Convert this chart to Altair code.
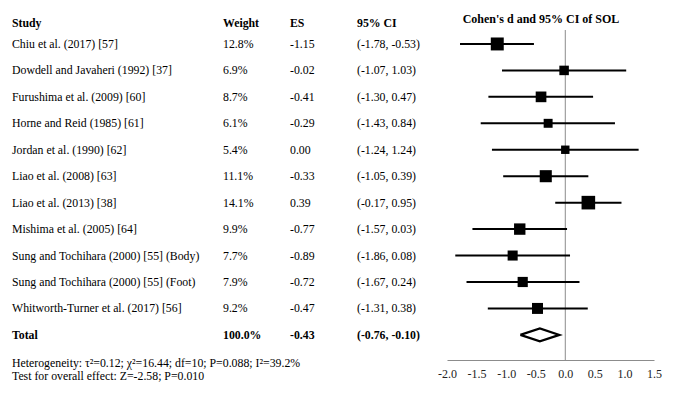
import altair as alt
import pandas as pd

studies = [
    "Chiu et al. (2017) [57]",
    "Dowdell and Javaheri (1992) [37]",
    "Furushima et al. (2009) [60]",
    "Horne and Reid (1985) [61]",
    "Jordan et al. (1990) [62]",
    "Liao et al. (2008) [63]",
    "Liao et al. (2013) [38]",
    "Mishima et al. (2005) [64]",
    "Sung and Tochihara (2000) [55] (Body)",
    "Sung and Tochihara (2000) [55] (Foot)",
    "Whitworth-Turner et al. (2017) [56]",
]
weights = [12.8, 6.9, 8.7, 6.1, 5.4, 11.1, 14.1, 9.9, 7.7, 7.9, 9.2]
es = [-1.15, -0.02, -0.41, -0.29, 0.00, -0.33, 0.39, -0.77, -0.89, -0.72, -0.47]
lo = [-1.78, -1.07, -1.30, -1.43, -1.24, -1.05, -0.17, -1.57, -1.86, -1.67, -1.31]
hi = [-0.53, 1.03, 0.47, 0.84, 1.24, 0.39, 0.95, 0.03, 0.08, 0.24, 0.38]

total_label = "Total"
total_weight = 100.0
total_es = -0.43
total_lo = -0.76
total_hi = -0.10

headers = ["Study", "Weight", "ES", "95% CI"]
plot_title = "Cohen's d and 95% CI of SOL"
footnote = [
    "Heterogeneity: \u03c4\u00b2=0.12; \u03c7\u00b2=16.44; df=10; P=0.088; I\u00b2=39.2%",
    "Test for overall effect: Z=-2.58; P=0.010",
]
tick_values = [-2.0, -1.5, -1.0, -0.5, 0.0, 0.5, 1.0, 1.5]

FONT = "Liberation Serif"
FS = 11.8

n = len(studies)
df = pd.DataFrame({
    "row": list(range(1, n + 1)),
    "study": studies,
    "weight": weights,
    "es": es,
    "lo": lo,
    "hi": hi,
})
df["w_txt"] = [f"{w:.1f}%" for w in weights]
df["es_txt"] = [f"{e:.2f}" for e in es]
df["ci_txt"] = [f"({a:.2f}, {b:.2f})" for a, b in zip(lo, hi)]

trow = n + 1
tot = pd.DataFrame({
    "row": [trow],
    "study": [total_label],
    "w_txt": [f"{total_weight:.1f}%"],
    "es_txt": [f"{total_es:.2f}"],
    "ci_txt": [f"({total_lo:.2f}, {total_hi:.2f})"],
})

hdr = pd.DataFrame({"row": [0], "study": [headers[0]], "w_txt": [headers[1]],
                    "es_txt": [headers[2]], "ci_txt": [headers[3]]})

# diamond polygon for the pooled estimate
h = 0.24
dia = pd.DataFrame({
    "x": [total_lo, total_es, total_hi, total_es, total_lo],
    "row": [trow, trow - h, trow, trow + h, trow],
    "o": [0, 1, 2, 3, 4],
})

xscale = alt.Scale(domain=[-2.0, 1.5], range=[439, 646], nice=False, zero=False)
yscale = alt.Scale(domain=[-0.36, 12.95], reverse=True, nice=False, zero=False)
Y = alt.Y("row:Q", scale=yscale, axis=None)

col_x = {"study": 4, "w_txt": 215, "es_txt": 282, "ci_txt": 349}

def text_cols(data, bold, dy=0):
    layers = []
    for col, px in col_x.items():
        layers.append(
            alt.Chart(data).mark_text(
                align="left", baseline="middle", font=FONT, fontSize=FS,
                fontWeight="bold" if bold else "normal", color="black", dy=dy
            ).encode(x=alt.value(px), y=Y, text=f"{col}:N")
        )
    return layers

base_axis = alt.Chart(df).mark_rule(opacity=0).encode(
    x=alt.X("es:Q", scale=xscale, title=None,
            axis=alt.Axis(values=tick_values, format=".1f", ticks=False, grid=False,
                          domainColor="#8c8c8c", domainWidth=1.2,
                          labelFont=FONT, labelFontSize=12, labelColor="#222",
                          labelOverlap=False, labelFlush=False, labelPadding=8,
                          labelExpr="replace(datum.label, '\u2212', '-')")),
    y=Y,
)

zero_rule = alt.Chart(pd.DataFrame({"z": [0.0]})).mark_rule(
    color="#8c8c8c", strokeWidth=1
).encode(x=alt.X("z:Q", scale=xscale), y=alt.value(22), y2=alt.value(352))

ci = alt.Chart(df).mark_rule(color="black", strokeWidth=2).encode(
    x=alt.X("lo:Q", scale=xscale), x2="hi:Q", y=Y)

sq = alt.Chart(df).mark_square(color="black", opacity=1, filled=True).encode(
    x=alt.X("es:Q", scale=xscale), y=Y,
    size=alt.Size("weight:Q", scale=alt.Scale(domain=[0, 14.1], range=[0, 185]), legend=None),
)

diamond = alt.Chart(dia).mark_line(color="black", strokeWidth=2.2).encode(
    x=alt.X("x:Q", scale=xscale), y=Y, order="o:Q")

title_txt = alt.Chart(pd.DataFrame({"row": [0], "t": [plot_title]})).mark_text(
    align="center", baseline="middle", font=FONT, fontSize=12, fontWeight="bold",
    color="black", dy=1
).encode(x=alt.value(533), y=Y, text="t:N")

foot = alt.Chart(pd.DataFrame({"t": ["\n".join(footnote)]})).mark_text(
    align="left", baseline="top", font=FONT, fontSize=11.8, color="black",
    lineBreak="\n", lineHeight=12.5
).encode(x=alt.value(4), y=alt.value(350), text="t:N")

layers = ([base_axis, zero_rule, ci, sq, diamond, title_txt, foot]
          + text_cols(df, False) + text_cols(tot, True) + text_cols(hdr, True, dy=5))

chart = alt.layer(*layers).properties(
    width=669, height=352,
    autosize=alt.AutoSizeParams(type="none"),
    padding={"left": 0, "top": 0, "right": 0, "bottom": 30},
).configure_view(stroke=None)

chart.save("out.html", embed_options={"renderer": "svg", "actions": False})
